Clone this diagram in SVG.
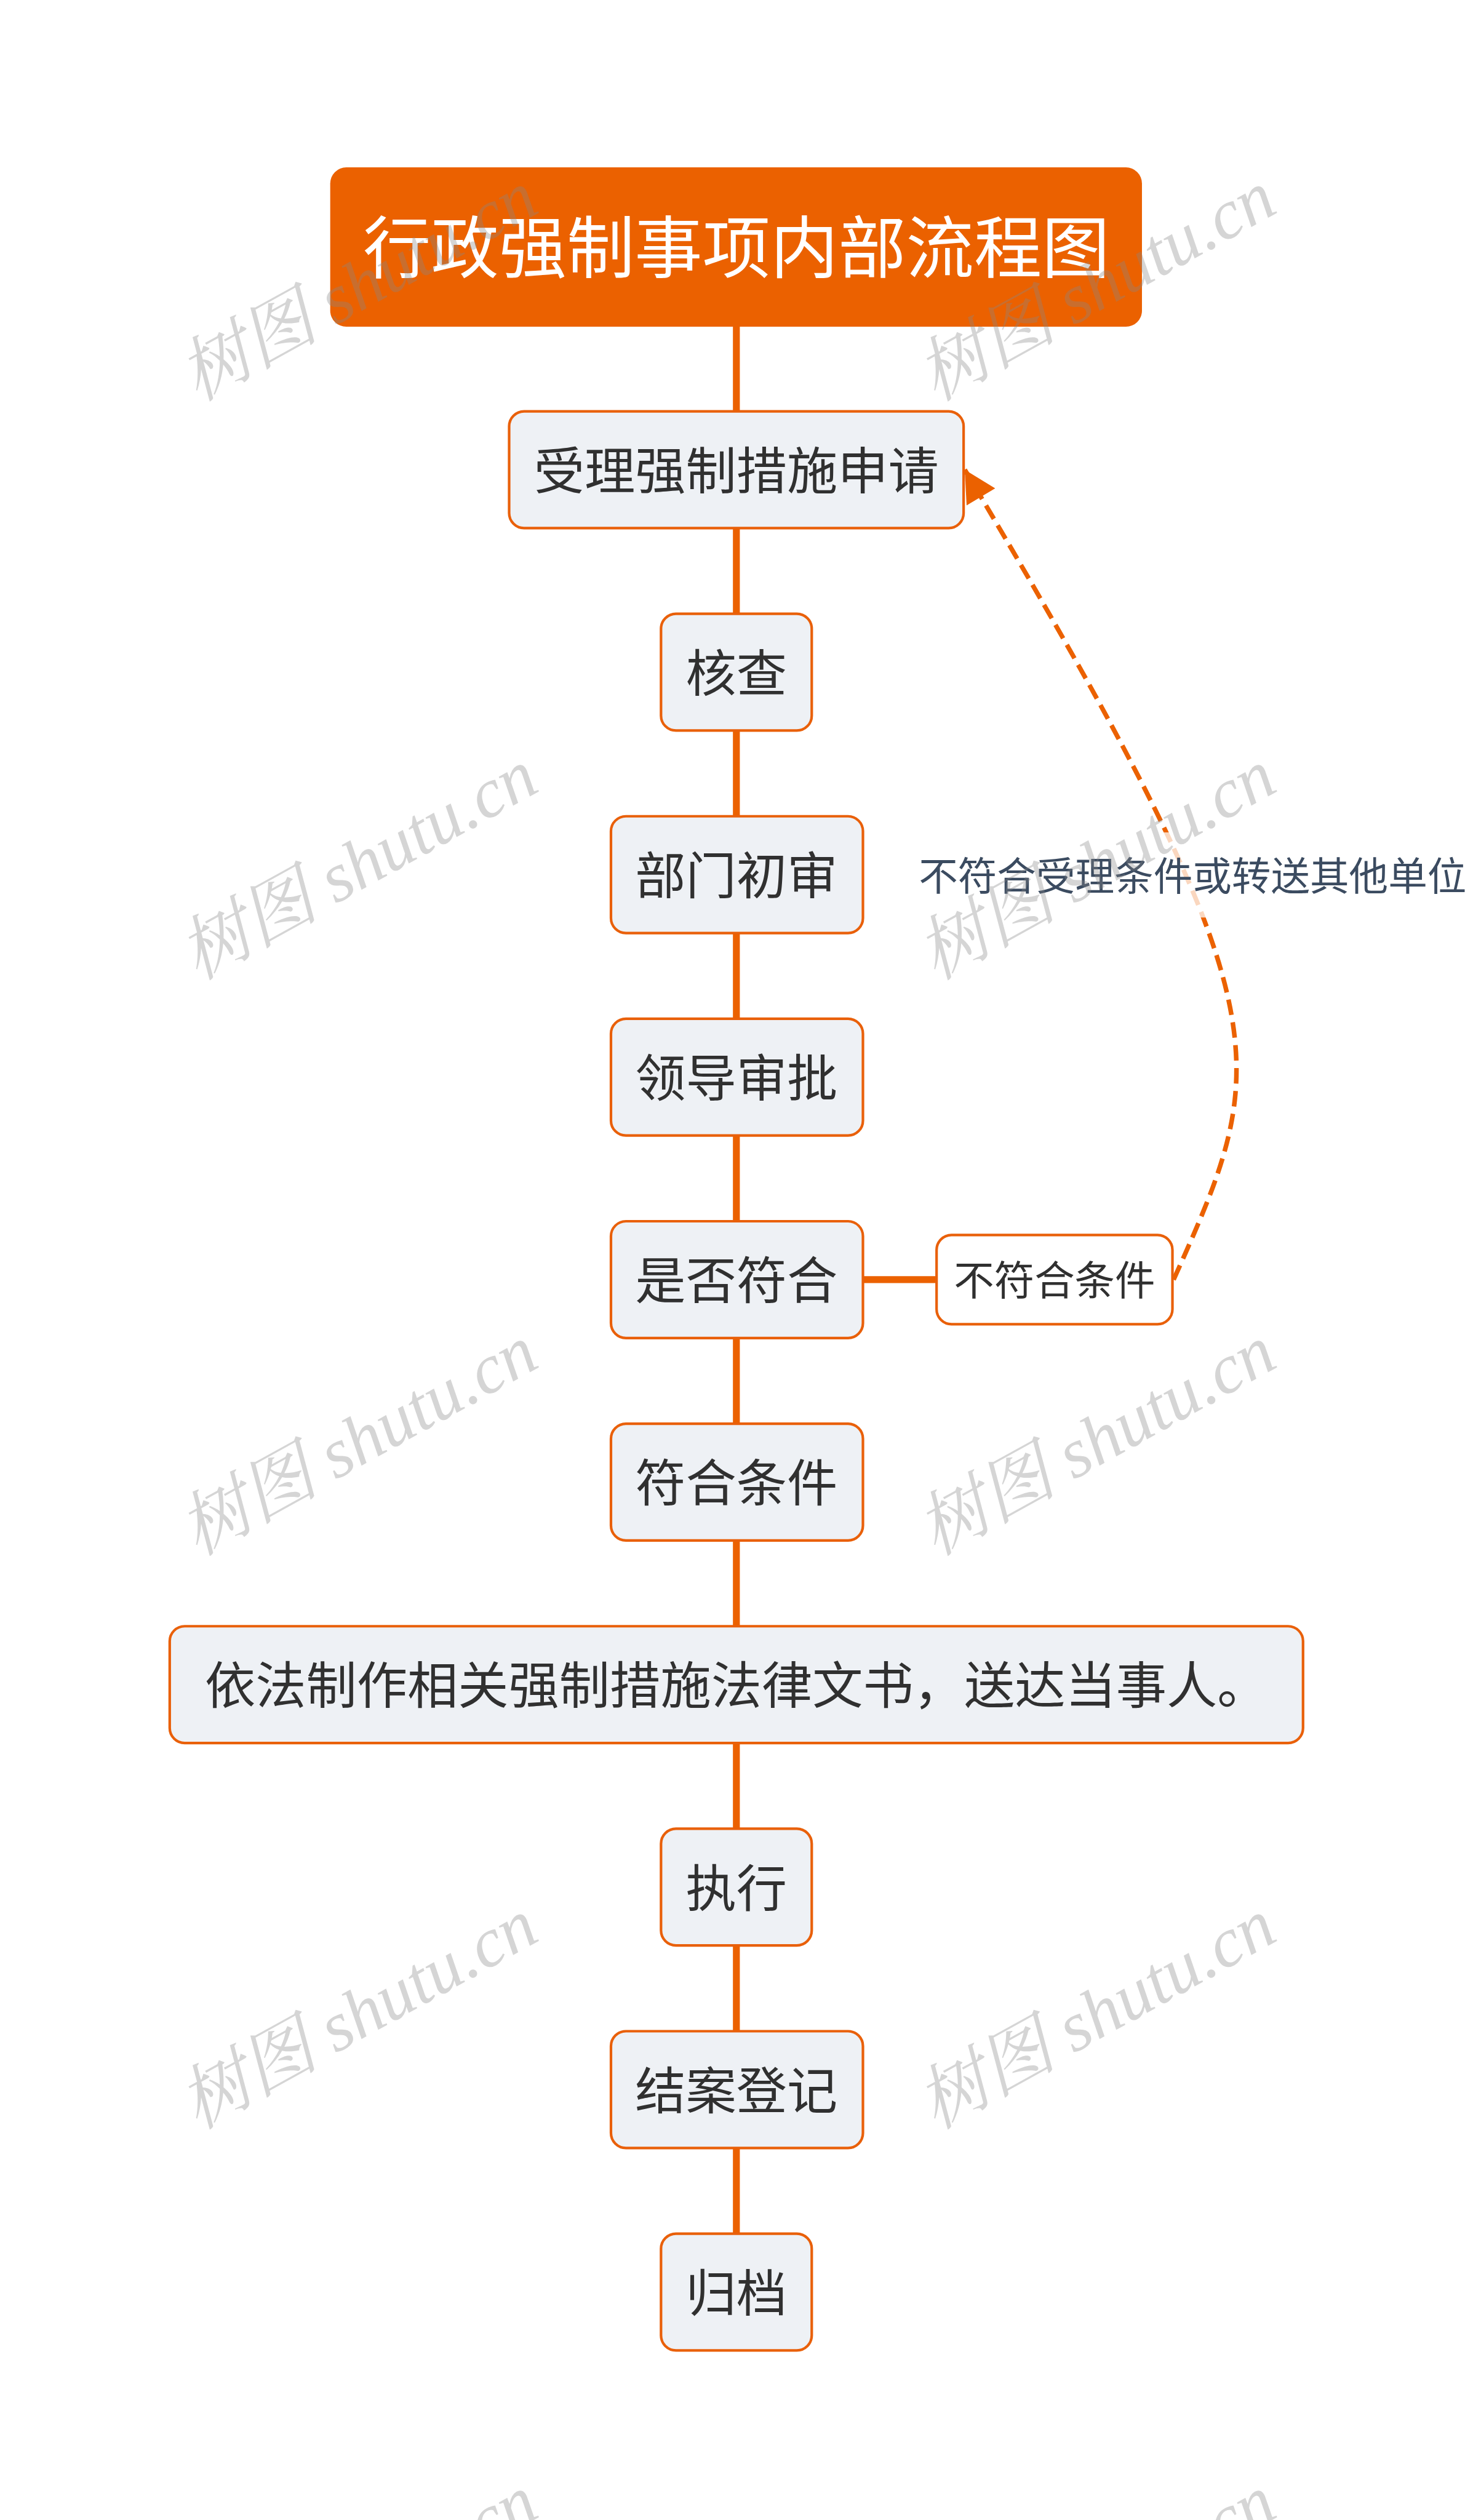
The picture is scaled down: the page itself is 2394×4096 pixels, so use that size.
<svg xmlns="http://www.w3.org/2000/svg" width="2394" height="4096" viewBox="0 0 2394 4096">
<style>
.nd{fill:#eef1f5;stroke:#e9600a;stroke-width:4.5}
.nw{fill:#ffffff;stroke:#e9600a;stroke-width:4.5}
.tx{font-family:"Noto Sans CJK SC","Noto Sans",sans-serif;fill:#303030;font-size:88px;text-anchor:middle}
.ln{stroke:#eb6100;stroke-width:12;fill:none}
.dl{stroke:#eb6100;stroke-width:8;fill:none;stroke-dasharray:27 13}
.wm{font-family:"Liberation Serif","Noto Serif CJK SC","Noto Sans CJK SC",serif;font-style:italic;font-size:122px;fill:#888888;fill-opacity:0.35}
</style>
<defs>
<marker id="ah" markerUnits="userSpaceOnUse" markerWidth="56" markerHeight="58" refX="55" refY="29" orient="auto" viewBox="0 0 55 58"><path d="M0 0 L55 29 L0 58 Z" fill="#eb6100"/></marker>
</defs>
<rect width="2394" height="4096" fill="#ffffff"/>
<g transform="scale(0.935)">
<g id="connectors">
<path class="ln" d="M1280 566V715M1280 918V1067M1280 1270V1419M1280 1622V1771M1280 1974V2123M1280 2326V2475M1280 2678V2827M1280 3030V3179M1280 3382V3531M1280 3734V3883"/>
<path class="ln" d="M1500 2224.5H1628"/>
<path class="dl" d="M2040 2224.5C2211 1844 2242 1766 1677 816.5" marker-end="url(#ah)"/>
</g>
<g id="label">
<rect x="1590" y="1447" width="975" height="148" fill="#ffffff" fill-opacity="0.75"/>
<text x="1597" y="1548" style="font-family:'Noto Sans CJK SC','Noto Sans',sans-serif;font-size:68px;fill:#3b4b60">不符合受理条件或转送其他单位</text>
</g>
<g id="title">
<rect x="574" y="291" width="1411" height="277" rx="28" fill="#eb6100"/>
<text class="tx" x="1280" y="474" style="font-size:118px;fill:#ffffff">行政强制事项内部流程图</text>
</g>
<g id="n1"><rect class="nd" x="885" y="715" width="790" height="203" rx="26"/><text class="tx" x="1280" y="850">受理强制措施申请</text></g>
<g id="n2"><rect class="nd" x="1149" y="1067" width="262" height="203" rx="26"/><text class="tx" x="1280" y="1202">核查</text></g>
<g id="n3"><rect class="nd" x="1062" y="1419" width="438" height="203" rx="26"/><text class="tx" x="1280" y="1554">部门初审</text></g>
<g id="n4"><rect class="nd" x="1062" y="1771" width="438" height="203" rx="26"/><text class="tx" x="1280" y="1906">领导审批</text></g>
<g id="n5"><rect class="nd" x="1062" y="2123" width="438" height="203" rx="26"/><text class="tx" x="1280" y="2258">是否符合</text></g>
<g id="n5b"><rect class="nw" x="1628" y="2147" width="410" height="155" rx="26"/><text class="tx" x="1833" y="2251" style="font-size:70px">不符合条件</text></g>
<g id="n6"><rect class="nd" x="1062" y="2475" width="438" height="203" rx="26"/><text class="tx" x="1280" y="2610">符合条件</text></g>
<g id="n7"><rect class="nd" x="295" y="2827" width="1970" height="203" rx="26"/><text class="tx" x="1280" y="2962">依法制作相关强制措施法律文书，送达当事人。</text></g>
<g id="n8"><rect class="nd" x="1149" y="3179" width="262" height="203" rx="26"/><text class="tx" x="1280" y="3314">执行</text></g>
<g id="n9"><rect class="nd" x="1062" y="3531" width="438" height="203" rx="26"/><text class="tx" x="1280" y="3666">结案登记</text></g>
<g id="n10"><rect class="nd" x="1149" y="3883" width="262" height="203" rx="26"/><text class="tx" x="1280" y="4018">归档</text></g>
<g id="watermarks">
<text class="wm" transform="translate(343 699) rotate(-29)">树图 shutu.cn</text>
<text class="wm" transform="translate(1626 699) rotate(-29)">树图 shutu.cn</text>
<text class="wm" transform="translate(343 1705) rotate(-29)">树图 shutu.cn</text>
<text class="wm" transform="translate(1626 1705) rotate(-29)">树图 shutu.cn</text>
<text class="wm" transform="translate(343 2706) rotate(-29)">树图 shutu.cn</text>
<text class="wm" transform="translate(1626 2706) rotate(-29)">树图 shutu.cn</text>
<text class="wm" transform="translate(343 3703) rotate(-29)">树图 shutu.cn</text>
<text class="wm" transform="translate(1626 3703) rotate(-29)">树图 shutu.cn</text>
<text class="wm" transform="translate(343 4705) rotate(-29)">树图 shutu.cn</text>
<text class="wm" transform="translate(1626 4705) rotate(-29)">树图 shutu.cn</text>
</g>
</g>
</svg>
